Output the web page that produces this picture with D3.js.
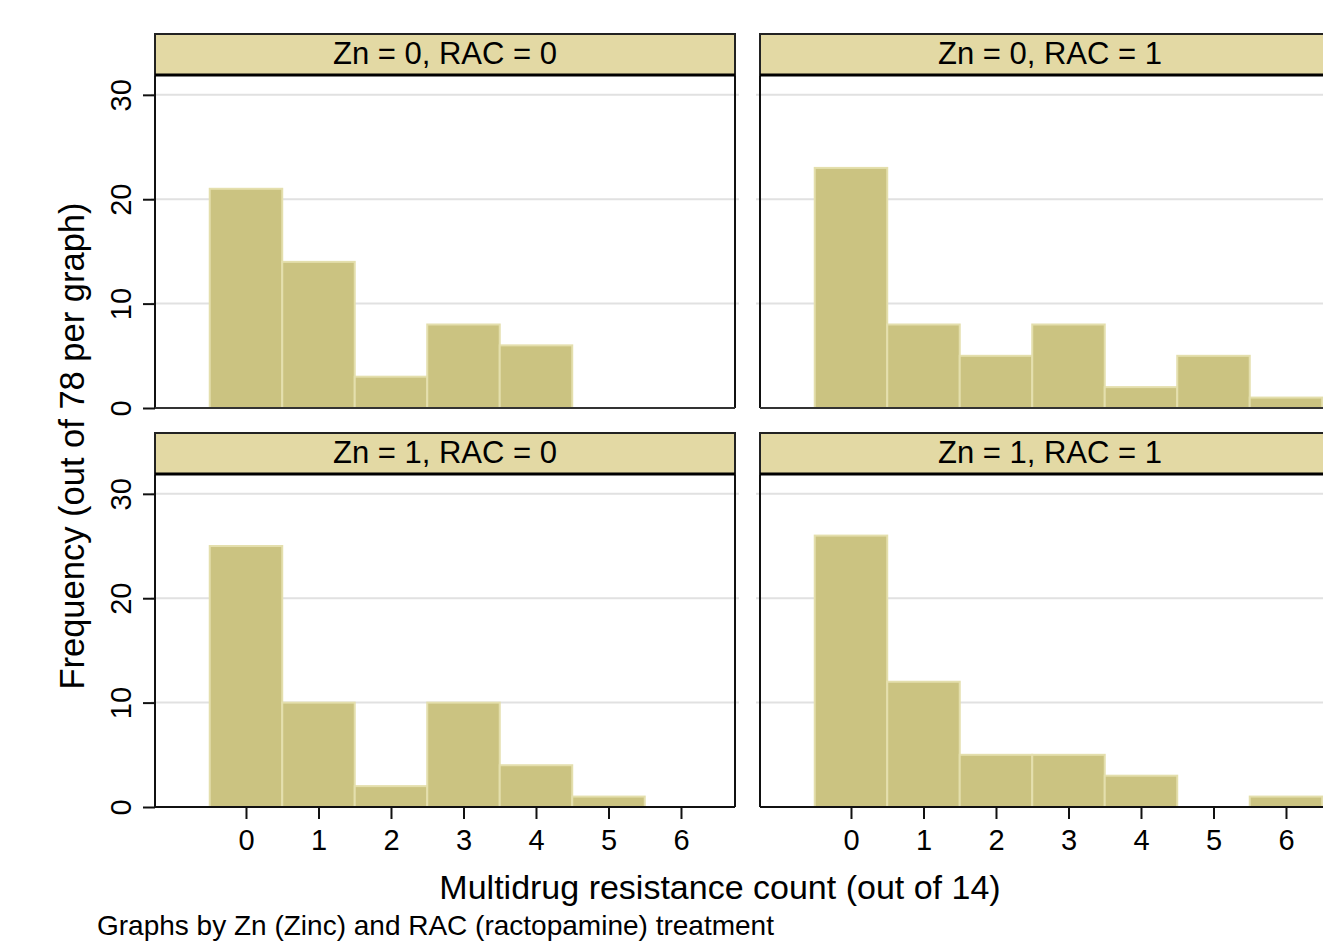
<!DOCTYPE html>
<html><head><meta charset="utf-8">
<script src="https://cdn.jsdelivr.net/npm/d3@7"></script>
<style>body{margin:0;background:#fff;overflow:hidden}svg{display:block}text{font-family:"Liberation Sans",Arial,sans-serif}</style>
</head><body><svg id="c" width="1323" height="944"></svg>
<script>
const bins = [0,1,2,3,4,5,6];
const panelTitles = ["Zn = 0, RAC = 0","Zn = 0, RAC = 1","Zn = 1, RAC = 0","Zn = 1, RAC = 1"];
const freqZn0Rac0 = [21,14,3,8,6,0,0];
const freqZn0Rac1 = [23,8,5,8,2,5,1];
const freqZn1Rac0 = [25,10,2,10,4,1,0];
const freqZn1Rac1 = [26,12,5,5,3,0,1];
const yTicks = [0,10,20,30];
const xTicks = [0,1,2,3,4,5,6];
const yTitle = "Frequency (out of 78 per graph)";
const xTitle = "Multidrug resistance count (out of 14)";
const note = "Graphs by Zn (Zinc) and RAC (ractopamine) treatment";

const panels = [
  {title:panelTitles[0], data:freqZn0Rac0, col:0, row:0},
  {title:panelTitles[1], data:freqZn0Rac1, col:1, row:0},
  {title:panelTitles[2], data:freqZn1Rac0, col:0, row:1},
  {title:panelTitles[3], data:freqZn1Rac1, col:1, row:1}
];
const colX = [155, 760], pw = 580;
const rowTop = [34, 433], headH = 41, ph = 333;
const barFill = "#cbc381", barStroke = "#e4dfad", headFill = "#e3d9a4";

const svg = d3.select("#c");
const x = d3.scaleLinear().domain([-1.255, 6.745]).range([0, pw]);
const y = d3.scaleLinear().domain([0, 31.9]).range([ph, 0]);

panels.forEach(p => {
  const g = svg.append("g").attr("transform", `translate(${colX[p.col]},${rowTop[p.row]+headH})`);
  g.selectAll("line.grid").data(yTicks.filter(d=>d>0)).enter().append("line")
    .attr("x1", -4).attr("x2", pw+4).attr("y1", d=>y(d)).attr("y2", d=>y(d))
    .attr("stroke", "#e1e1e1").attr("stroke-width", 2);
  g.selectAll("rect.bar").data(bins.map((b,i)=>({b, v:p.data[i]})).filter(d=>d.v>0)).enter().append("rect")
    .attr("x", d=>x(d.b-0.5)).attr("width", d=>x(d.b+0.5)-x(d.b-0.5))
    .attr("y", d=>y(d.v)).attr("height", d=>y(0)-y(d.v))
    .attr("fill", barFill).attr("stroke", barStroke).attr("stroke-width", 2);
  g.append("line").attr("x1",0).attr("x2",0).attr("y1",0).attr("y2",ph).attr("stroke","#111").attr("stroke-width",2);
  g.append("line").attr("x1",pw).attr("x2",pw).attr("y1",0).attr("y2",ph).attr("stroke","#111").attr("stroke-width",2);
  if (p.row === 1) {
    const ax = g.append("g").attr("transform", `translate(0,${ph})`)
      .call(d3.axisBottom(x).tickValues(xTicks).tickSize(12).tickPadding(10).tickFormat(d3.format("d")));
    ax.select(".domain").attr("stroke","#111").attr("stroke-width",2).attr("d", `M0,0H${pw}`);
    ax.selectAll(".tick line").attr("stroke","#111").attr("stroke-width",2);
    ax.selectAll(".tick text").attr("font-size",29).attr("fill","#000").attr("font-family",'"Liberation Sans",Arial,sans-serif');
  } else {
    g.append("line").attr("x1",0).attr("x2",pw).attr("y1",ph).attr("y2",ph).attr("stroke","#333").attr("stroke-width",2);
  }
  if (p.col === 0) {
    const ay = g.append("g").call(d3.axisLeft(y).tickValues(yTicks).tickSize(12).tickFormat(d3.format("d")));
    ay.select(".domain").remove();
    ay.selectAll(".tick line").attr("stroke","#111").attr("stroke-width",2);
    ay.selectAll(".tick text").attr("font-size",29).attr("fill","#000")
      .attr("font-family",'"Liberation Sans",Arial,sans-serif')
      .attr("x",null).attr("dy",null).attr("text-anchor","middle")
      .attr("transform","translate(-34,0) rotate(-90)").attr("dominant-baseline","central");
  }
  const h = svg.append("g").attr("transform", `translate(${colX[p.col]},${rowTop[p.row]})`);
  h.append("rect").attr("x",0).attr("y",0).attr("width",pw).attr("height",headH)
    .attr("fill",headFill).attr("stroke","#222").attr("stroke-width",2);
  h.append("line").attr("x1",0).attr("x2",pw).attr("y1",headH).attr("y2",headH).attr("stroke","#000").attr("stroke-width",3);
  h.append("text").attr("x",pw/2).attr("y",headH/2-1).attr("text-anchor","middle").attr("dominant-baseline","central")
    .attr("font-size",31).attr("fill","#000").text(p.title);
});

svg.append("text").attr("transform","translate(72,446) rotate(-90)").attr("text-anchor","middle")
  .attr("dominant-baseline","central").attr("font-size",34.5).attr("fill","#000").text(yTitle);
svg.append("text").attr("x",720).attr("y",887).attr("text-anchor","middle").attr("dominant-baseline","central")
  .attr("font-size",34).attr("fill","#000").text(xTitle);
svg.append("text").attr("x",97).attr("y",925).attr("dominant-baseline","central")
  .attr("font-size",28).attr("fill","#000").text(note);
</script></body></html>
